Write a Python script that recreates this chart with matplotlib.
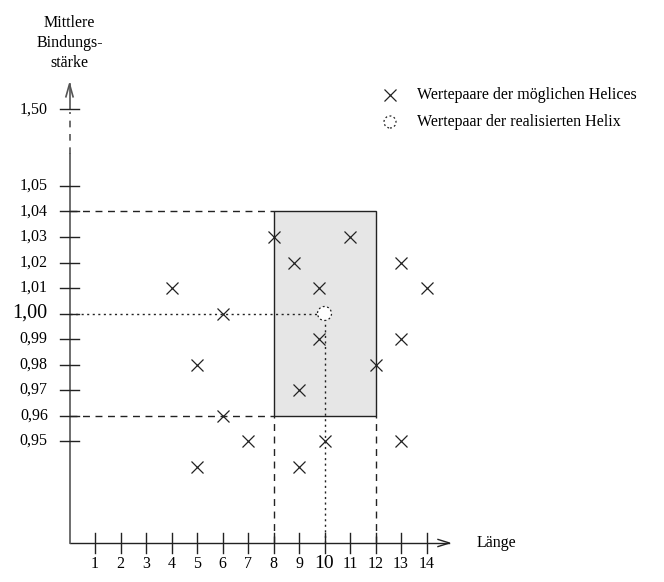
import matplotlib.pyplot as plt
from matplotlib.patches import Rectangle, Circle

plt.rcParams['font.family'] = ['Liberation Serif', 'DejaVu Serif']

# Wertepaare (Länge, mittlere Bindungsstärke)
laenge = [4, 5, 5, 6, 6, 7, 8, 8.8, 9, 9, 9.8, 9.8, 10, 11, 12, 13, 13, 13, 14]
staerke = [1.01, 0.98, 0.94, 1.00, 0.96, 0.95, 1.03, 1.02, 0.97, 0.94,
           1.01, 0.99, 0.95, 1.03, 0.98, 1.02, 0.99, 0.95, 1.01]
helix_x = 10
helix_y = 1.00
box_x = [8, 12]
box_y = [0.96, 1.04]
xticks = list(range(1, 15))
yticks = [0.95, 0.96, 0.97, 0.98, 0.99, 1.00, 1.01, 1.02, 1.03, 1.04, 1.05, 1.50]


def ypos(v):
    # gebrochene Achse: linear bis 1,05, danach gestaucht
    if v <= 1.05 + 1e-9:
        return (v - 0.91) / 0.01
    return 14 + (v - 1.05) / 0.15


fig = plt.figure(figsize=(6.64, 5.82), dpi=100)
ax = fig.add_axes([0, 0, 1, 1])
s = 25.5
ax.set_xlim(-69.5 / s, (664 - 69.5) / s)
ax.set_ylim(-(582 - 543) / s, 543 / s)
ax.axis('off')

lc = '#222222'
ac = '#555555'

# Achsen
ax.plot([0, 14.9], [0, 0], color=lc, lw=1)
ax.plot([14.45, 14.9, 14.45], [0.14, 0, -0.14], color=lc, lw=1)
ax.plot([0, 0], [0, 15.25], color=ac, lw=1.2)
ax.plot([0, 0], [15.25, 16.9], color=ac, lw=1.2, ls=(0, (4, 4)))
ax.plot([0, 0], [17, 18], color=ac, lw=1.2)
ax.plot([-0.14, 0, 0.14], [17.5, 18, 17.5], color=ac, lw=1.2)

# Rechteck
y0, y1 = ypos(box_y[0]), ypos(box_y[1])
ax.add_patch(Rectangle((box_x[0], y0), box_x[1] - box_x[0], y1 - y0,
                       facecolor='#e6e6e6', edgecolor=lc, lw=1, zorder=1))
ax.plot([0, box_x[0]], [y1, y1], color=lc, lw=1, ls=(0, (5, 4)))
ax.plot([0, box_x[0]], [y0, y0], color=lc, lw=1, ls=(0, (5, 4)))
for bx in box_x:
    ax.plot([bx, bx], [0, y0], color=lc, lw=1, ls=(0, (5, 4)))

# realisierte Helix
hy = ypos(helix_y)
r = 7 / s
ax.plot([0, helix_x - r], [hy, hy], color=lc, lw=1, ls=(0, (1.5, 2.5)))
ax.plot([helix_x, helix_x], [0, hy - r], color=lc, lw=1, ls=(0, (1.5, 2.5)))
ax.add_patch(Circle((helix_x, hy), r, facecolor='white', edgecolor=lc,
                    lw=0.9, ls=(0, (1.5, 2)), zorder=5))

# Ticks
for xt in xticks:
    ax.plot([xt, xt], [-0.39, 0.39], color=lc, lw=1)
    ax.text(xt, -0.82, str(xt), ha='center', va='center',
            fontsize=14 if xt == helix_x else 11.5)
for yt in yticks:
    p = ypos(yt)
    ax.plot([-0.39, 0.39], [p, p], color=lc, lw=1)
    ax.text(-0.85, p, f'{yt:.2f}'.replace('.', ','), ha='right', va='center',
            fontsize=14.5 if abs(yt - helix_y) < 1e-9 else 11.5)

# Kreuze
ax.plot(laenge, [ypos(v) for v in staerke], marker='x', ms=8.5, mew=0.9,
        color=lc, ls='none', zorder=4)

# Beschriftungen
ax.text(15.95, 0, 'Länge', ha='left', va='center', fontsize=11.5)
ax.text(0, 21.3 - 15 / s, 'Mittlere\nBindungs-\nstärke', ha='center',
        va='top', fontsize=11.5, linespacing=1.35)

# Legende
lx = (390 - 69.5) / s
ax.plot([lx], [(543 - 95) / s], marker='x', ms=8.5, mew=0.9, color=lc,
        ls='none')
ax.add_patch(Circle((lx, (543 - 122) / s), 6 / s, facecolor='none',
                    edgecolor=lc, lw=0.9, ls=(0, (1.5, 2))))
ax.text((417 - 69.5) / s, (543 - 95) / s, 'Wertepaare der möglichen Helices',
        ha='left', va='center', fontsize=11.5)
ax.text((417 - 69.5) / s, (543 - 122) / s, 'Wertepaar der realisierten Helix',
        ha='left', va='center', fontsize=11.5)

fig.savefig('out.png', dpi=100)
